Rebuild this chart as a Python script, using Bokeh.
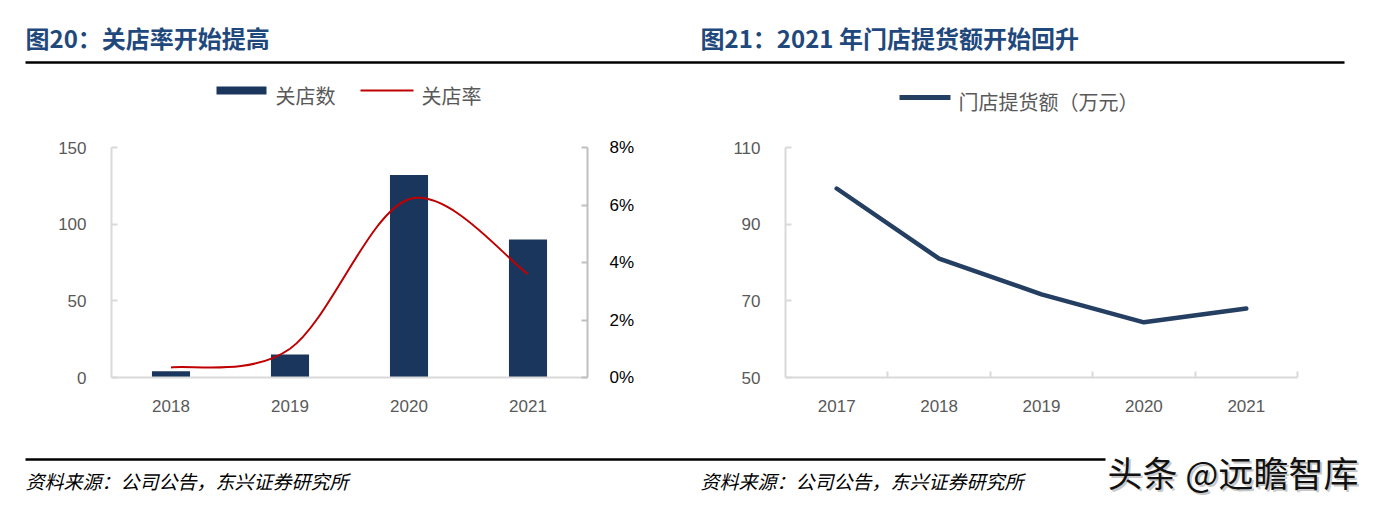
from bokeh.plotting import figure
from bokeh.layouts import column, row
from bokeh.models import Range1d, LinearAxis, FixedTicker, PrintfTickFormatter
from bokeh.core.properties import value
from bokeh.embed import file_html
from bokeh.resources import INLINE

# ---------------- data ----------------
years_close = [2018, 2019, 2020, 2021]
closed_stores = [4, 15, 132, 90]
close_rate = [0.35, 1.0, 6.2, 3.6]          # percent
years_pickup = [2017, 2018, 2019, 2020, 2021]
pickup_amount = [99.3, 81.0, 71.7, 64.4, 68.0]

left_ticks = [0, 50, 100, 150]
rate_ticks = [0, 2, 4, 6, 8]
pickup_ticks = [50, 70, 90, 110]

title_left = "图20：关店率开始提高"
title_right = "图21：2021 年门店提货额开始回升"
legend_bar = "关店数"
legend_rate = "关店率"
legend_pickup = "门店提货额（万元）"
source_text = "资料来源：公司公告，东兴证券研究所"
watermark = "头条 @远瞻智库"

# ---------------- styles ----------------
CJK = value("Noto Sans CJK SC")
LAT = "Liberation Sans"
NAVY_BAR = "#1B365D"
NAVY_LINE = "#243F62"
RED = "#C00000"
TITLE_BLUE = "#1F497D"
AX_LIGHT = "#D9D9D9"
AX_DARK = "#BFBFBF"
LBL = "#595959"

W, H1, H2, H3 = 1359, 128, 310, 64
WL = 690
WR = W - WL


def deco(w, h):
    f = figure(width=w, height=h, x_range=Range1d(0, w), y_range=Range1d(h, 0),
               output_backend="svg", toolbar_location=None, min_border=0,
               x_axis_location=None, y_axis_location=None)
    f.grid.visible = False
    f.outline_line_color = None
    return f


def txt(f, x, y, s, size, color, style="normal", font=CJK, align="left"):
    f.text(x=[x], y=[y], text=[s], text_font=font, text_font_size=size,
           text_color=color, text_font_style=style, text_baseline="middle",
           text_align=align)


# ---------------- top decoration ----------------
top = deco(W, H1)
txt(top, 25, 37, title_left, "24px", TITLE_BLUE, "bold")
txt(top, 700, 37, title_right, "24px", TITLE_BLUE, "bold")
top.segment(x0=[25], y0=[62], x1=[1344], y1=[62], line_color="black", line_width=2.5)
# left legend
top.quad(left=[216], right=[266], top=[86], bottom=[94], fill_color=NAVY_BAR, line_color=None)
txt(top, 275, 95, legend_bar, "20px", LBL)
top.segment(x0=[360], y0=[90], x1=[413], y1=[90], line_color=RED, line_width=2)
txt(top, 421, 95, legend_rate, "20px", LBL)
# right legend
top.segment(x0=[899], y0=[97], x1=[950], y1=[97], line_color=NAVY_LINE, line_width=5)
txt(top, 958, 101, legend_pickup, "20px", LBL)


def style_axis(ax, color, label_color, standoff):
    ax.axis_line_color = color
    ax.axis_line_width = 2
    ax.major_tick_line_color = color
    ax.major_tick_line_width = 2
    ax.major_tick_in = 6
    ax.major_tick_out = 0
    ax.minor_tick_line_color = None
    ax.major_label_text_font = LAT
    ax.major_label_text_font_size = "17px"
    ax.major_label_text_color = label_color
    ax.major_label_standoff = standoff


# ---------------- left chart ----------------
pl = figure(width=WL, height=H2, x_range=Range1d(2017.5, 2021.5), y_range=Range1d(0, 150),
            output_backend="svg", toolbar_location=None,
            min_border_left=111, min_border_right=103, min_border_top=19, min_border_bottom=61)
pl.grid.visible = False
pl.outline_line_color = None
pl.extra_y_ranges = {"rate": Range1d(0, 8)}

pl.vbar(x=years_close, top=closed_stores, width=0.32, fill_color=NAVY_BAR, line_color=None)

# smoothed line (Catmull-Rom -> cubic Bezier control points from the data)
n = len(years_close)
pts = list(zip(years_close, close_rate))
x0, y0, x1, y1, cx0, cy0, cx1, cy1 = ([] for _ in range(8))
for i in range(n - 1):
    pa = pts[max(i - 1, 0)]
    pb = pts[i]
    pc = pts[i + 1]
    pd = pts[min(i + 2, n - 1)]
    x0.append(pb[0]); y0.append(pb[1])
    x1.append(pc[0]); y1.append(pc[1])
    cx0.append(pb[0] + (pc[0] - pa[0]) / 6); cy0.append(pb[1] + (pc[1] - pa[1]) / 6)
    cx1.append(pc[0] - (pd[0] - pb[0]) / 6); cy1.append(pc[1] - (pd[1] - pb[1]) / 6)
pl.bezier(x0=x0, y0=y0, x1=x1, y1=y1, cx0=cx0, cy0=cy0, cx1=cx1, cy1=cy1,
          line_color=RED, line_width=2, y_range_name="rate")

axl = pl.yaxis[0]
axl.ticker = FixedTicker(ticks=left_ticks)
style_axis(axl, AX_LIGHT, LBL, 25)

axr = LinearAxis(y_range_name="rate", ticker=FixedTicker(ticks=rate_ticks),
                 formatter=PrintfTickFormatter(format="%d%%"))
style_axis(axr, AX_DARK, "#000000", 22)
pl.add_layout(axr, "right")

axb = pl.xaxis[0]
axb.ticker = FixedTicker(ticks=years_close)
axb.formatter = PrintfTickFormatter(format="%d")
style_axis(axb, AX_LIGHT, LBL, 22)
axb.major_tick_line_color = None

# ---------------- right chart ----------------
pr = figure(width=WR, height=H2, x_range=Range1d(2016.5, 2021.5), y_range=Range1d(50, 110),
            output_backend="svg", toolbar_location=None,
            min_border_left=95, min_border_right=62, min_border_top=19, min_border_bottom=61)
pr.grid.visible = False
pr.outline_line_color = None
pr.line(x=years_pickup, y=pickup_amount, line_color=NAVY_LINE, line_width=4.5,
        line_join="round", line_cap="round")

ayr = pr.yaxis[0]
ayr.ticker = FixedTicker(ticks=pickup_ticks)
style_axis(ayr, AX_LIGHT, LBL, 25)

axb2 = pr.xaxis[0]
axb2.ticker = FixedTicker(ticks=years_pickup, minor_ticks=[y + 0.5 for y in years_pickup])
axb2.formatter = PrintfTickFormatter(format="%d")
style_axis(axb2, AX_LIGHT, LBL, 22)
axb2.major_tick_line_color = None
axb2.minor_tick_line_color = AX_LIGHT
axb2.minor_tick_line_width = 2
axb2.minor_tick_in = 6
axb2.minor_tick_out = 0

# ---------------- bottom decoration ----------------
bot = deco(W, H3)
bot.segment(x0=[25], y0=[21], x1=[1105], y1=[21], line_color="black", line_width=2.5)
txt(bot, 25, 42, source_text, "19px", "#000000", "italic")
txt(bot, 700, 42, source_text, "19px", "#000000", "italic")
txt(bot, 1109, 35, watermark, "35px", "#C8C8C8")
txt(bot, 1107, 33, watermark, "35px", "#111111")

layout = column(top, row(pl, pr), bot)
open("out.html", "w").write(file_html(layout, INLINE))
